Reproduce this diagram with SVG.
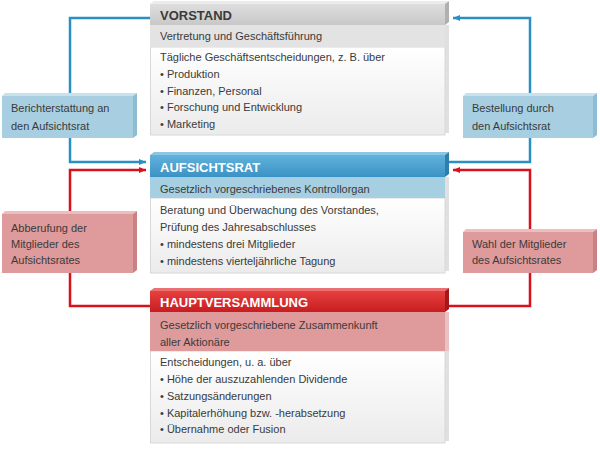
<svg xmlns="http://www.w3.org/2000/svg" width="600" height="455" viewBox="0 0 600 455">
<defs>
<linearGradient id="gGray" x1="0" y1="0" x2="0" y2="1"><stop offset="0" stop-color="#dedede"/><stop offset="1" stop-color="#c8c8c8"/></linearGradient>
<linearGradient id="gBlue" x1="0" y1="0" x2="0" y2="1"><stop offset="0" stop-color="#62b2dc"/><stop offset="1" stop-color="#3a92c4"/></linearGradient>
<linearGradient id="gRed" x1="0" y1="0" x2="0" y2="1"><stop offset="0" stop-color="#e6403f"/><stop offset="1" stop-color="#c81d20"/></linearGradient>
<linearGradient id="gBody" x1="0" y1="0" x2="0" y2="1"><stop offset="0" stop-color="#ffffff"/><stop offset="1" stop-color="#ebebeb"/></linearGradient>
<marker id="aBlue" viewBox="0 0 8 8" refX="7" refY="4" markerWidth="8" markerHeight="8" markerUnits="userSpaceOnUse" orient="auto"><path d="M0,1 L7,4 L0,7 Z" fill="#2a8fc2"/></marker>
<marker id="aRed" viewBox="0 0 8 8" refX="7" refY="4" markerWidth="8" markerHeight="8" markerUnits="userSpaceOnUse" orient="auto"><path d="M0,1 L7,4 L0,7 Z" fill="#d8121a"/></marker>
</defs>
<style>
text{font-family:"Liberation Sans",Arial,sans-serif;font-size:11px;fill:#3a3a3a}
.t{font-size:13px;font-weight:bold}
.w{fill:#ffffff}
.body{fill:url(#gBody);stroke:#d8d8d8;stroke-width:1}
.bside{fill:#e0e0e0}
.cb{fill:none;stroke:#2a8fc2;stroke-width:2.5}
.cr{fill:none;stroke:#d8121a;stroke-width:2.5}
.lb{fill:#a8cfe1}.lbt{fill:#c8e2ed}.lbs{fill:#8ebdd3}
.lr{fill:#df9b9c}.lrt{fill:#ecbebf}.lrs{fill:#c88283}
</style>
<rect width="600" height="455" fill="#ffffff"/>
<g id="connectors">
<path class="cb" d="M150,18 H70 V162 H146" marker-end="url(#aBlue)"/>
<path class="cr" d="M150,306 H70 V170 H146" marker-end="url(#aRed)"/>
<path class="cb" d="M449,162 H530 V18 H453" marker-end="url(#aBlue)"/>
<path class="cr" d="M449,306 H530 V170 H453" marker-end="url(#aRed)"/>
</g>
<g id="vorstand">
<rect class="bside" x="445" y="25" width="4" height="108"/>
<rect class="body" x="150.5" y="47" width="294.5" height="88"/>
<polygon points="150,4 154,1 449,1 445,4" fill="#ececec"/>
<polygon points="445,4 449,1 449,22 445,25" fill="#b0b0b0"/>
<rect x="150" y="4" width="295" height="21" fill="url(#gGray)"/>
<rect x="150" y="25" width="295" height="22" fill="#e3e3e3"/>
<text class="t" x="160" y="20">VORSTAND</text>
<text x="160" y="40">Vertretung und Geschäftsführung</text>
<text x="160" y="61">Tägliche Geschäftsentscheidungen, z. B. über</text>
<text x="160" y="78">• Produktion</text>
<text x="160" y="95">• Finanzen, Personal</text>
<text x="160" y="111">• Forschung und Entwicklung</text>
<text x="160" y="128">• Marketing</text>
</g>
<g id="aufsichtsrat">
<rect class="bside" x="445" y="177" width="4" height="94"/>
<rect class="body" x="150.5" y="198" width="294.5" height="75"/>
<polygon points="150,155 154,152 449,152 445,155" fill="#8cc6e4"/>
<polygon points="445,155 449,152 449,174 445,177" fill="#2f7fae"/>
<rect x="150" y="155" width="295" height="22" fill="url(#gBlue)"/>
<rect x="150" y="177" width="295" height="21" fill="#a6cfe2"/>
<text class="t w" x="160" y="172">AUFSICHTSRAT</text>
<text x="160" y="193">Gesetzlich vorgeschriebenes Kontrollorgan</text>
<text x="160" y="214">Beratung und Überwachung des Vorstandes,</text>
<text x="160" y="231">Prüfung des Jahresabschlusses</text>
<text x="160" y="248">• mindestens drei Mitglieder</text>
<text x="160" y="265">• mindestens vierteljährliche Tagung</text>
</g>
<g id="hauptversammlung">
<rect class="bside" x="445" y="312" width="4" height="129"/>
<rect class="body" x="150.5" y="351" width="294.5" height="92"/>
<polygon points="150,291 154,288 449,288 445,291" fill="#ea7072"/>
<polygon points="445,291 449,288 449,309 445,312" fill="#a5181a"/>
<rect x="150" y="291" width="295" height="21" fill="url(#gRed)"/>
<rect x="150" y="312" width="295" height="39" fill="#df9a9b"/>
<rect x="445" y="312" width="4" height="39" fill="#e8c2c2"/>
<text class="t w" x="160" y="307">HAUPTVERSAMMLUNG</text>
<text x="160" y="329">Gesetzlich vorgeschriebene Zusammenkunft</text>
<text x="160" y="346">aller Aktionäre</text>
<text x="160" y="366">Entscheidungen, u. a. über</text>
<text x="160" y="383">• Höhe der auszuzahlenden Dividende</text>
<text x="160" y="400">• Satzungsänderungen</text>
<text x="160" y="417">• Kapitalerhöhung bzw. -herabsetzung</text>
<text x="160" y="433">• Übernahme oder Fusion</text>
</g>
<g id="label-berichterstattung">
<polygon class="lbt" points="2,96 5,93 137,93 133,96"/>
<polygon class="lbs" points="133,96 137,93 137,135 133,138"/>
<rect class="lb" x="2" y="96" width="131" height="42"/>
<text x="11" y="112">Berichterstattung an</text>
<text x="11" y="130">den Aufsichtsrat</text>
</g>
<g id="label-abberufung">
<polygon class="lrt" points="2,214 5,211 137,211 133,214"/>
<polygon class="lrs" points="133,214 137,211 137,270 133,273"/>
<rect class="lr" x="2" y="214" width="131" height="59"/>
<text x="11" y="232">Abberufung der</text>
<text x="11" y="248">Mitglieder des</text>
<text x="11" y="264">Aufsichtsrates</text>
</g>
<g id="label-bestellung">
<polygon class="lbt" points="463,96 466,93 597,93 593,96"/>
<polygon class="lbs" points="593,96 597,93 597,135 593,138"/>
<rect class="lb" x="463" y="96" width="130" height="42"/>
<text x="472" y="112">Bestellung durch</text>
<text x="472" y="130">den Aufsichtsrat</text>
</g>
<g id="label-wahl">
<polygon class="lrt" points="463,232 466,229 597,229 593,232"/>
<polygon class="lrs" points="593,232 597,229 597,270 593,273"/>
<rect class="lr" x="463" y="232" width="130" height="41"/>
<text x="472" y="248">Wahl der Mitglieder</text>
<text x="472" y="264">des Aufsichtsrates</text>
</g>
</svg>
